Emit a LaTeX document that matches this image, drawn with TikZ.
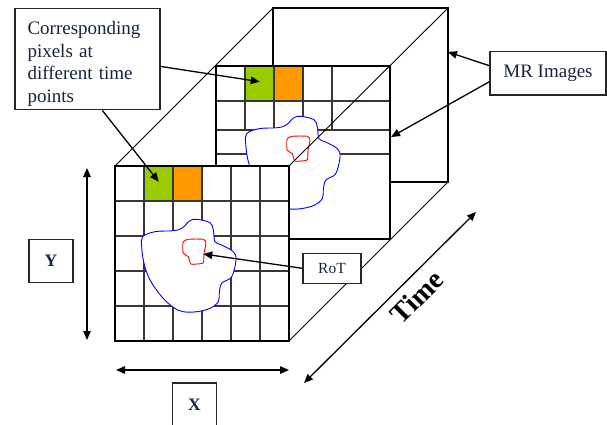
\documentclass[tikz,border=0pt]{standalone}
\usepackage{fontspec}
\setmainfont{Liberation Serif}
\usetikzlibrary{arrows.meta,calc}
\definecolor{txt}{RGB}{23,37,58}
\definecolor{cellg}{RGB}{153,204,0}
\definecolor{cello}{RGB}{255,153,0}
\definecolor{gridc}{RGB}{55,55,55}
\begin{document}
\begin{tikzpicture}[x=1pt,y=-1pt,
  arr/.style={-{Triangle[length=9pt,width=7.5pt]}, line width=1.3pt},
  darr/.style={{Triangle[length=9pt,width=7.5pt]}-{Triangle[length=9pt,width=7.5pt]}, line width=1.3pt},
  frame/.style={line width=2pt},
  gl/.style={line width=1.1pt, draw=gridc},
  diag/.style={line width=0.9pt},
  lbox/.style={draw=black!85, line width=1.2pt, fill=white, text=txt, inner sep=0pt},
  cellnode/.style={inner sep=0pt, minimum width=29pt, minimum height=35pt, anchor=north west},
  blob/.style={draw=blue, fill=white, line width=0.9pt},
  roi/.style={draw=red, line width=0.9pt}
]
\useasboundingbox (0,0) rectangle (607,425);

% back rectangle (last time point)
\filldraw[fill=white, frame] (273,8) rectangle (448,182);
% top-left edge of the cube
\draw[diag] (115,166) -- (273,8);

% middle image (back grid)
\fill[white] (216,66) rectangle (390,239);
\node[cellnode, fill=cellg] (gback) at (245,66) {};
\node[cellnode, fill=cello] (oback) at (274,66) {};
\foreach \x in {245,274,303,332} \draw[gl] (\x,66) -- (\x,130);
\foreach \y in {101,130,154} \draw[gl] (216,\y) -- (390,\y);
\begin{scope}[shift={(104,-103)}]
\filldraw[blob] plot[smooth cycle, tension=0.6] coordinates {(142.7,236.7) (155,231.7) (173.3,230.7) (181.7,228.3) (190,220.7) (196.7,219.3) (210,222.7) (213.3,230) (215,241.7) (221.7,245) (233.3,251.7) (236,260) (231.7,276.7) (221.7,283.3) (219.3,293.3) (218.3,301.7) (210,308.3) (196.7,311.7) (183.3,311.7) (173.3,307.3) (161.7,296.7) (150,280) (144,263.3) (141.7,246.7)};
\draw[roi] plot[smooth cycle, tension=0.4] coordinates {(183.3,241.7) (188.3,239.3) (203.3,239.3) (206,243.3) (204,253.3) (203.3,262.7) (196.7,264) (190.7,264) (188.3,256.7) (183.3,253.3) (182.7,246.7)};
\end{scope}
\draw[frame] (216,66) rectangle (390,239);

% other cube edges
\draw[diag] (289,166) -- (448,8);
\draw[diag] (289,341) -- (448,182);

% front image (first time point)
\fill[white] (115,166) rectangle (289,341);
\node[cellnode, fill=cellg] (gfront) at (144,166) {};
\node[cellnode, fill=cello] (ofront) at (173,166) {};
\foreach \x in {144,173,202,231,260} \draw[gl] (\x,166) -- (\x,341);
\foreach \y in {201,236,271,306} \draw[gl] (115,\y) -- (289,\y);
\filldraw[blob] plot[smooth cycle, tension=0.6] coordinates {(142.7,236.7) (155,231.7) (173.3,230.7) (181.7,228.3) (190,220.7) (196.7,219.3) (210,222.7) (213.3,230) (215,241.7) (221.7,245) (233.3,251.7) (236,260) (231.7,276.7) (221.7,283.3) (219.3,293.3) (218.3,301.7) (210,308.3) (196.7,311.7) (183.3,311.7) (173.3,307.3) (161.7,296.7) (150,280) (144,263.3) (141.7,246.7)};
\draw[roi] plot[smooth cycle, tension=0.4] coordinates {(183.3,241.7) (188.3,239.3) (203.3,239.3) (206,243.3) (204,253.3) (203.3,262.7) (196.7,264) (190.7,264) (188.3,256.7) (183.3,253.3) (182.7,246.7)};
\draw[frame] (115,166) rectangle (289,341);

% labels
\node[lbox, minimum width=145pt, minimum height=101pt, anchor=north west] (cbox) at (14.3,8.3) {};
\node[anchor=north west, inner sep=0pt, text width=130pt, align=left, text=txt,
      font=\fontsize{19}{22.5}\selectfont] (ctext) at (27.3,21.3)
      {Corresponding\\pixels at\\different time\\points};
\node[lbox, minimum width=116pt, minimum height=43.3pt, font=\fontsize{19}{22}\selectfont] (mr) at (548,73.3) {MR Images};
\node[lbox, minimum width=58pt, minimum height=30pt, font=\fontsize{15.5}{18}\selectfont] (rot) at (332,268.3) {RoT};
\node[lbox, minimum width=44pt, minimum height=43.4pt, font=\fontsize{17.5}{20}\bfseries\selectfont] (ylab) at (51,261) {Y};
\node[lbox, minimum width=44pt, minimum height=44pt, font=\fontsize{17.5}{20}\bfseries\selectfont] (xlab) at (194.5,405) {X};
\node[rotate=45, inner sep=0pt, font=\fontsize{28}{32}\bfseries\selectfont] (time) at (417,297) {Time};

% axis arrows
\coordinate (ytop) at (87,168);
\coordinate (ybot) at (87,340);
\coordinate (xl) at (116,370);
\coordinate (xr) at (289,370);
\coordinate (tlo) at (304,383);
\coordinate (thi) at (476,212);
\draw[darr] (ytop) -- (ybot);
\draw[darr] (xl) -- (xr);
\draw[darr] (tlo) -- (thi);

% callout arrows
\coordinate (mrtip1) at (448,52);
\coordinate (mrtip2) at (391,137);
\coordinate (rottip) at (203.3,254);
\draw[arr] ([yshift=-7pt]cbox.east) -- ([yshift=2pt]gback.center);
\draw[arr] ([xshift=15pt]cbox.south) -- ([yshift=2pt]gfront.center);
\draw[arr] ([yshift=7.6pt]mr.west) -- (mrtip1);
\draw[arr] ([yshift=-8.4pt]mr.west) -- (mrtip2);
\draw[arr] (rot.west) -- (rottip);
\end{tikzpicture}
\end{document}
